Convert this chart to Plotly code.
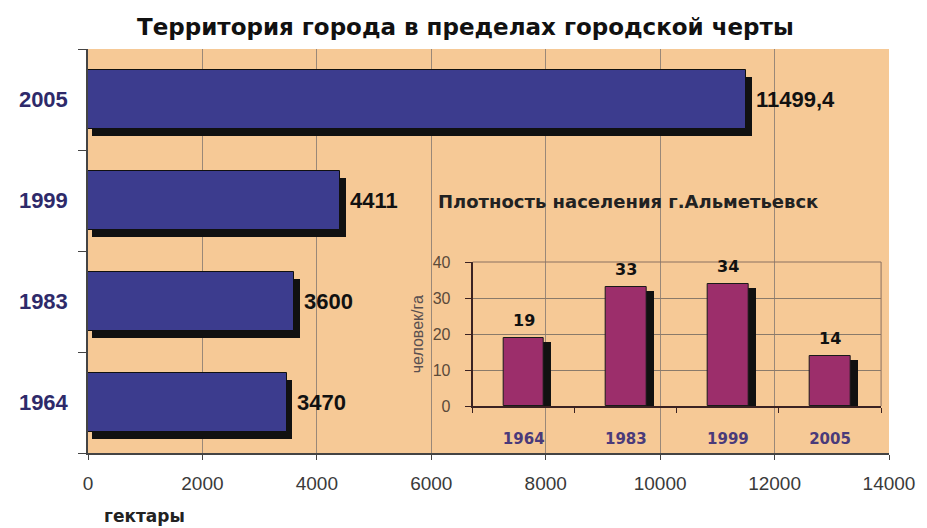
import plotly.graph_objects as go

# ---------------- data ----------------
years = ["1964", "1983", "1999", "2005"]
area_ha = [3470, 3600, 4411, 11499.4]
area_labels = ["3470", "3600", "4411", "11499,4"]
density = [19, 33, 34, 14]
density_labels = ["19", "33", "34", "14"]
x_tickvals = [0, 2000, 4000, 6000, 8000, 10000, 12000, 14000]
y2_tickvals = [0, 10, 20, 30, 40]

title_text = "Территория города в пределах городской черты"
inset_title = "Плотность населения г.Альметьевск"
x_unit = "гектары"
y2_unit = "человек/га"

# ---------------- geometry / style ----------------
W, H = 927, 528
ML, MR, MT, MB = 88, 29, 49, 75
PW, PH = W - ML - MR, H - MT - MB
XMAX = 14000
ux = XMAX / PW                      # data units per pixel on main x
cat_px = PH / len(years)

ins_x0, ins_x1, ins_ytop, ins_ybot = 477, 890, 262, 406
Y2MAX = 40
uy2 = Y2MAX / (ins_ybot - ins_ytop)
cat2_px = (ins_x1 - ins_x0) / len(years)

BG = "#F6C996"
BAR1 = "#3C3C8E"
BAR2 = "#9C2E6B"
SHADOW = "#111111"
SANS = "Liberation Sans, Arial, sans-serif"
WIDE = "DejaVu Sans, Verdana, sans-serif"

bw1 = 0.584
sh_dx, sh_dy, sh_left = 6, 7, 4
bw2 = 0.40
sh2_dx, sh2_dy = 7, 4

fig = go.Figure()

# main bars: shadow then bar
fig.add_trace(go.Bar(
    y=years, x=[v + (sh_dx - sh_left) * ux for v in area_ha], base=sh_left * ux,
    orientation="h", width=bw1, offset=-bw1 / 2 - sh_dy / cat_px,
    marker=dict(color=SHADOW, line=dict(width=0)), hoverinfo="skip",
    xaxis="x", yaxis="y", showlegend=False))
fig.add_trace(go.Bar(
    y=years, x=area_ha, orientation="h", width=bw1, offset=-bw1 / 2,
    marker=dict(color=BAR1, line=dict(color="#101010", width=1)),
    xaxis="x", yaxis="y", showlegend=False))

# inset bars
fig.add_trace(go.Bar(
    x=years, y=[v - sh2_dy * uy2 for v in density], width=bw2,
    offset=-bw2 / 2 + sh2_dx / cat2_px,
    marker=dict(color=SHADOW, line=dict(width=0)), hoverinfo="skip",
    xaxis="x2", yaxis="y2", showlegend=False))
fig.add_trace(go.Bar(
    x=years, y=density, width=bw2, offset=-bw2 / 2,
    marker=dict(color=BAR2, line=dict(color="#1a1a1a", width=1)),
    xaxis="x2", yaxis="y2", showlegend=False))

annotations = []
for i, (v, lab) in enumerate(zip(area_ha, area_labels)):
    annotations.append(dict(x=v, y=i, xref="x", yref="y", text="<b>" + lab + "</b>",
                            showarrow=False, xanchor="left", yanchor="middle",
                            xshift=sh_dx + 2,
                            font=dict(family=SANS, size=22, color="#111111")))
for i, (v, lab) in enumerate(zip(density, density_labels)):
    annotations.append(dict(x=i, y=v, xref="x2", yref="y2", text="<b>" + lab + "</b>",
                            showarrow=False, xanchor="center", yanchor="bottom",
                            yshift=6,
                            font=dict(family=WIDE, size=16, color="#111111")))

def px_x(px):
    return (px - ML) / PW

def px_y(py):
    return (H - MB - py) / PH

annotations += [
    dict(x=px_x(470), y=px_y(27), xref="paper", yref="paper", text="<b>" + title_text + "</b>",
         showarrow=False, xanchor="center", yanchor="middle",
         font=dict(family=WIDE, size=23, color="#111111")),
    dict(x=px_x(440), y=px_y(201), xref="paper", yref="paper", text="<b>" + inset_title + "</b>",
         showarrow=False, xanchor="left", yanchor="middle",
         font=dict(family=WIDE, size=18, color="#222222")),
    dict(x=px_x(102), y=px_y(516), xref="paper", yref="paper", text="<b>" + x_unit + "</b>",
         showarrow=False, xanchor="left", yanchor="middle",
         font=dict(family=WIDE, size=17, color="#222222")),
    dict(x=px_x(421), y=px_y((ins_ytop + ins_ybot) / 2), xref="paper", yref="paper",
         text=y2_unit, textangle=-90, showarrow=False, xanchor="center", yanchor="middle",
         font=dict(family=SANS, size=16, color="#5a5050")),
]

shapes = [
    dict(type="rect", xref="paper", yref="paper", x0=0, x1=1, y0=0, y1=1,
         fillcolor=BG, line=dict(width=0), layer="below"),
    dict(type="line", xref="x2 domain", yref="y2 domain", x0=1, x1=1, y0=0, y1=1,
         line=dict(color="#8a7060", width=1)),
    dict(type="line", xref="x2 domain", yref="y2 domain", x0=0, x1=1, y0=1, y1=1,
         line=dict(color="#8a7060", width=1)),
]

fig.update_layout(
    width=W, height=H,
    margin=dict(l=ML, r=MR, t=MT, b=MB),
    paper_bgcolor="white", plot_bgcolor="rgba(0,0,0,0)",
    barmode="overlay", bargap=0,
    showlegend=False,
    annotations=annotations, shapes=shapes,
    xaxis=dict(domain=[0, 1], range=[0, XMAX], tickvals=x_tickvals, tickformat="d",
               showgrid=True, gridcolor="#9a8878", gridwidth=1,
               showline=True, linecolor="#444444", linewidth=1.5,
               ticks="outside", ticklen=5, tickcolor="#444444",
               tickfont=dict(family=SANS, size=19, color="#3a3a3a"),
               ticklabelstandoff=7, zeroline=False, fixedrange=True),
    yaxis=dict(domain=[0, 1], type="category", categoryarray=years,
               range=[-0.5, len(years) - 0.5],
               showgrid=False, showline=True, linecolor="#444444", linewidth=1.5,
               ticks="outside", ticklen=8, tickcolor="#444444", tickson="boundaries",
               tickfont=dict(family=SANS, size=22, color="#2E2A6A", weight="bold"),
               ticklabelstandoff=14, fixedrange=True),
    xaxis2=dict(domain=[px_x(ins_x0), px_x(ins_x1)], anchor="y2", type="category",
                categoryarray=years, range=[-0.5, len(years) - 0.5],
                showgrid=False, showline=True, linecolor="#3a2222", linewidth=2,
                ticks="outside", ticklen=5, tickcolor="#3a2222", tickson="boundaries",
                tickfont=dict(family=WIDE, size=15, color="#4A3A7A", weight="bold"),
                ticklabelstandoff=18, fixedrange=True),
    yaxis2=dict(domain=[px_y(ins_ybot), px_y(ins_ytop)], anchor="x2",
                range=[0, Y2MAX], tickvals=y2_tickvals,
                showgrid=True, gridcolor="#8a7a6a", gridwidth=1,
                showline=True, linecolor="#3a2222", linewidth=2,
                ticks="outside", ticklen=6, tickcolor="#3a2222",
                tickfont=dict(family=SANS, size=16, color="#5B4A3A"),
                ticklabelstandoff=11, zeroline=False, fixedrange=True),
)

fig.write_html("out.html", config={"displayModeBar": False},
               post_script="document.body.style.margin='0';")
